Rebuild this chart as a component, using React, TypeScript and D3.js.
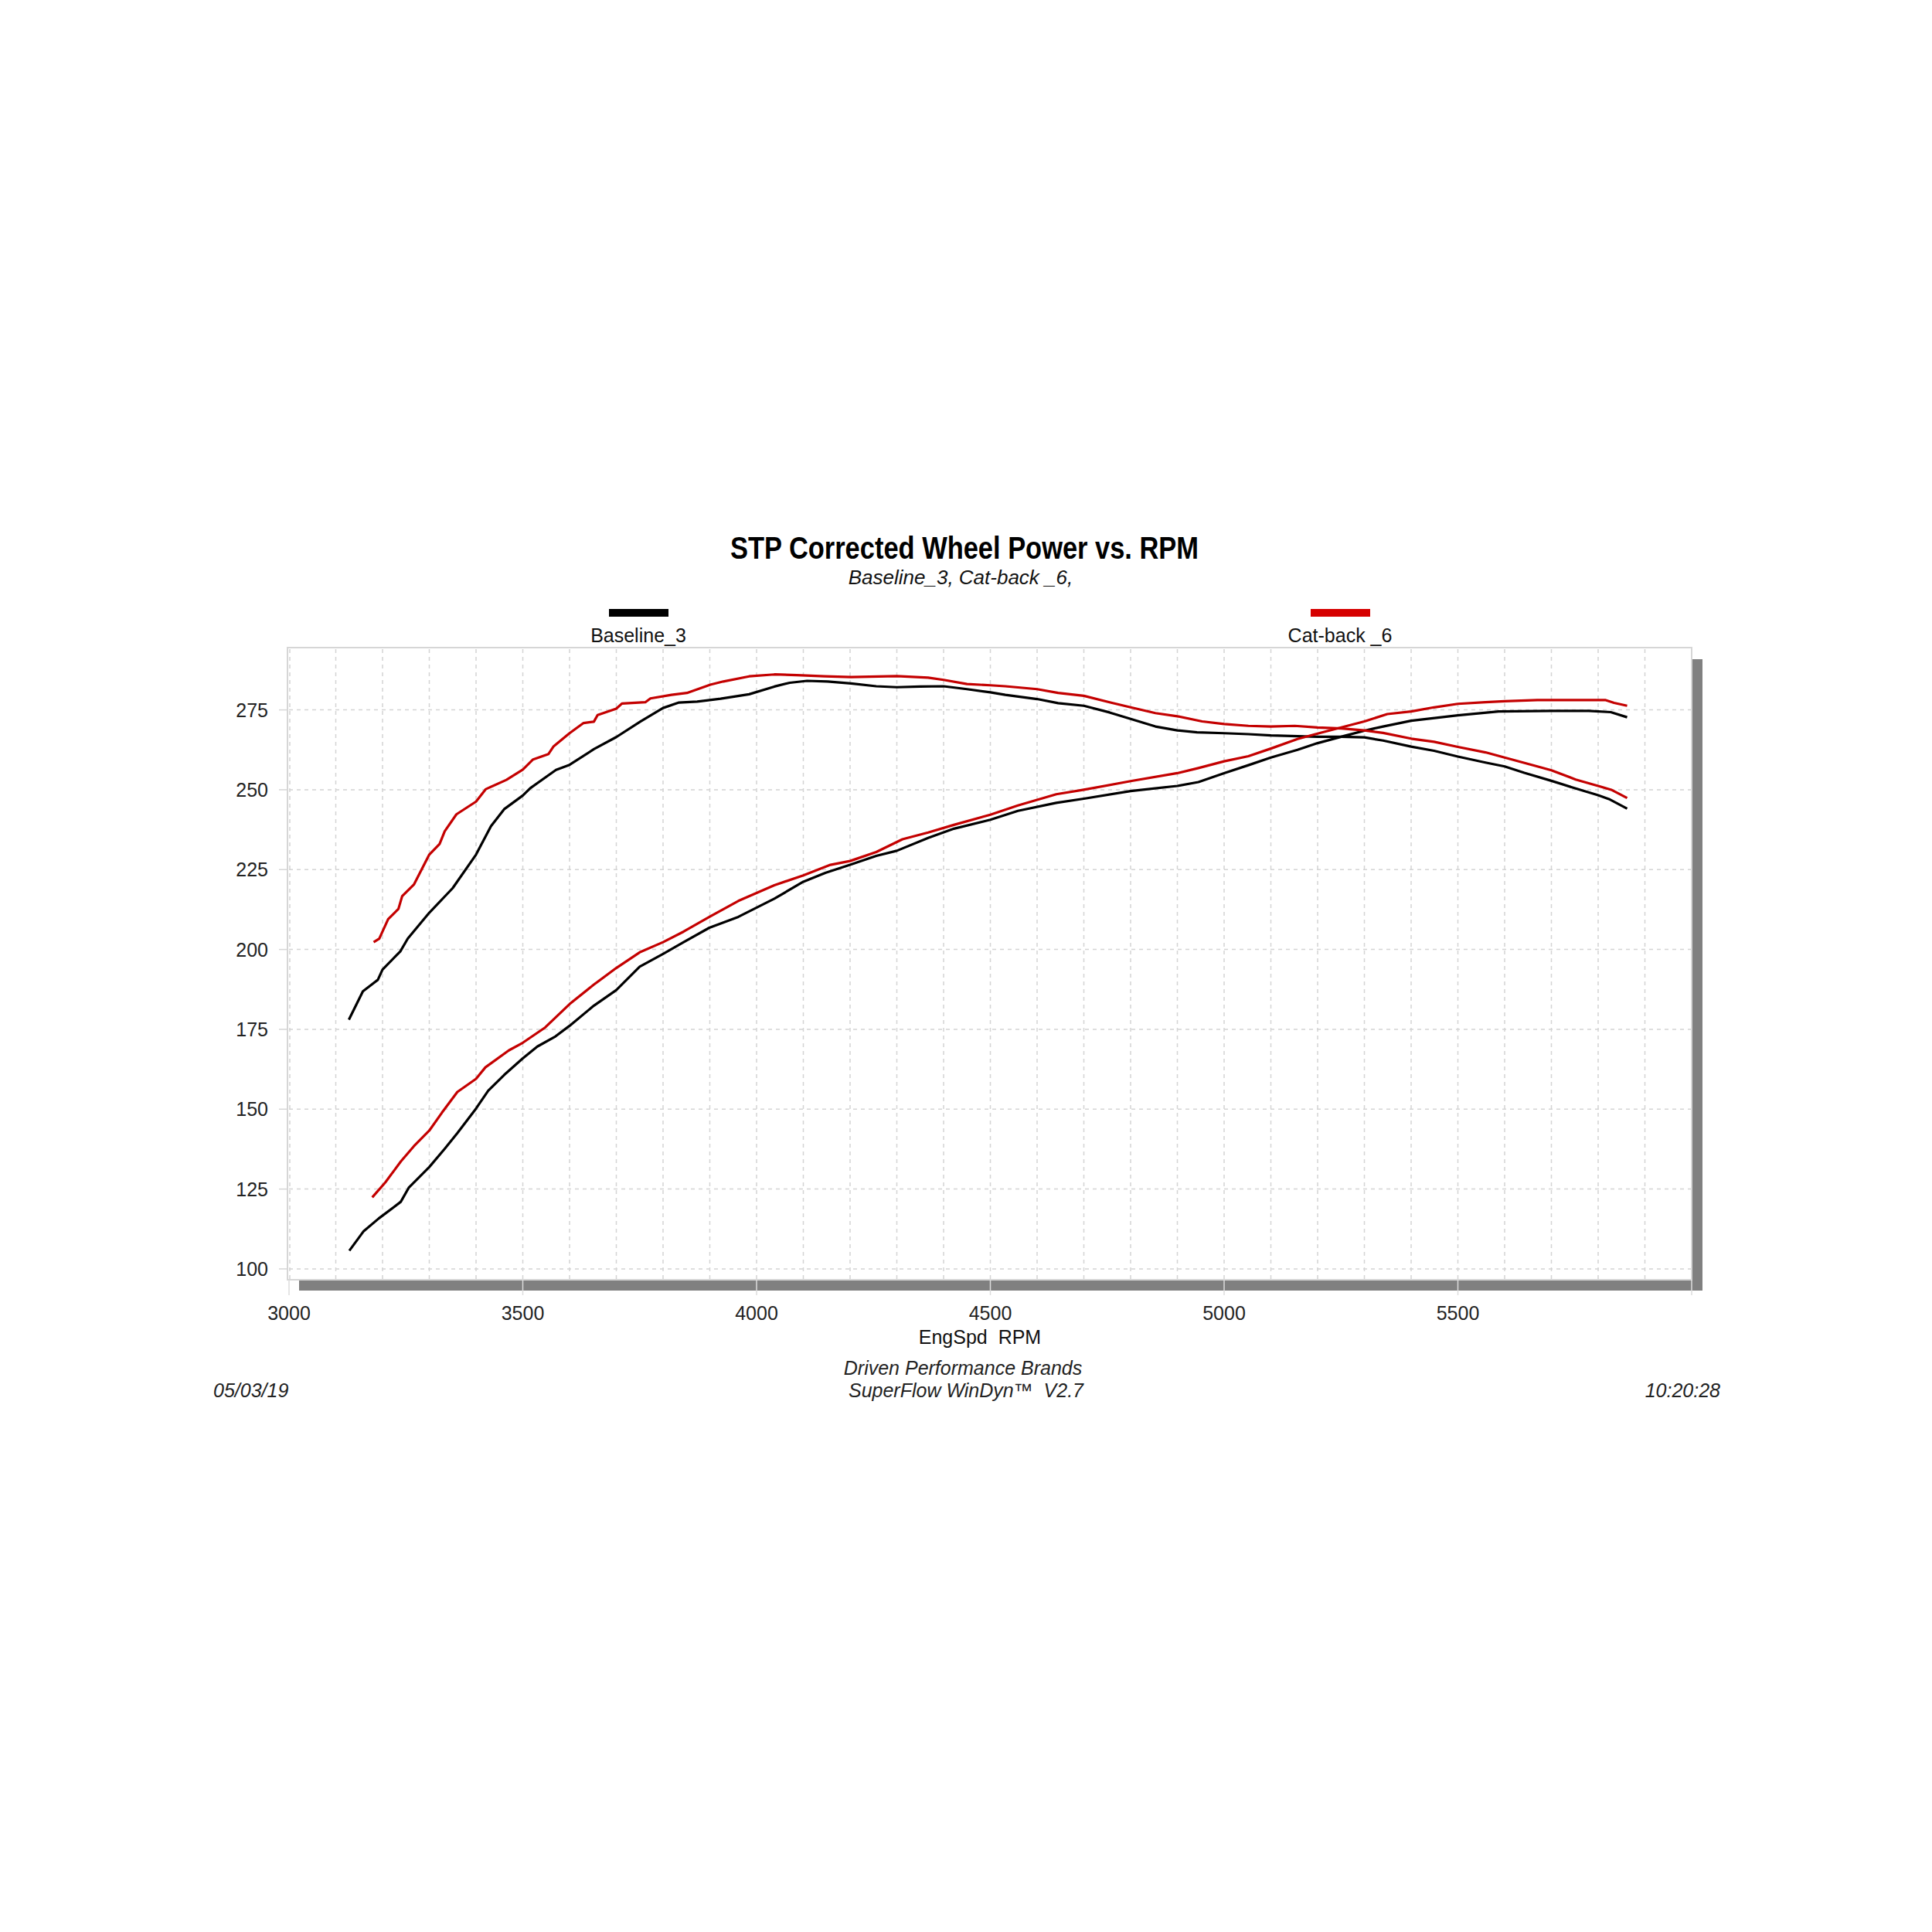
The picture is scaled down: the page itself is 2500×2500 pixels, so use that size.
import React from 'react';
import * as d3 from 'd3';

// Baseline_3 (black) – falling curve and rising curve
const baselineTopRpm = [3128, 3158, 3190, 3200, 3238, 3254, 3300, 3350, 3400, 3432, 3460, 3500, 3516, 3571, 3600, 3652, 3700, 3751, 3800, 3834, 3873, 3923, 3984, 4038, 4071, 4108, 4152, 4202, 4256, 4300, 4350, 4400, 4450, 4500, 4532, 4600, 4645, 4700, 4755, 4800, 4853, 4900, 4942, 5000, 5052, 5100, 5200, 5251, 5300, 5340, 5400, 5449, 5500, 5559, 5600, 5642, 5700, 5752, 5800, 5823, 5862];
const baselineTop = [178, 186.9, 190.5, 193.7, 199.4, 203.4, 211.5, 219.2, 229.7, 238.6, 243.9, 248.2, 250.5, 256.2, 257.8, 262.7, 266.5, 271.3, 275.6, 277.3, 277.6, 278.5, 279.9, 282.3, 283.5, 284.1, 283.9, 283.3, 282.4, 282.1, 282.3, 282.4, 281.5, 280.5, 279.7, 278.4, 277.1, 276.3, 274.2, 272.2, 269.8, 268.6, 268, 267.7, 267.4, 267, 266.6, 266.6, 266.4, 265.4, 263.5, 262.2, 260.4, 258.5, 257.3, 255.3, 252.8, 250.4, 248.3, 247.1, 244.1];

const baselineLowRpm = [3129, 3159, 3192, 3239, 3256, 3300, 3333, 3360, 3400, 3426, 3460, 3500, 3531, 3570, 3600, 3652, 3700, 3750, 3800, 3844, 3899, 3961, 4038, 4100, 4147, 4200, 4256, 4300, 4367, 4422, 4500, 4559, 4641, 4700, 4800, 4900, 4945, 5000, 5052, 5100, 5157, 5200, 5258, 5300, 5340, 5400, 5500, 5587, 5700, 5780, 5827, 5862];
const baselineLow = [105.7, 111.7, 115.8, 121, 125.4, 131.9, 137.6, 142.5, 150.2, 155.8, 160.7, 165.9, 169.6, 172.8, 176.1, 182.4, 187.3, 194.6, 198.6, 202.3, 206.8, 210.2, 215.9, 221.2, 224, 226.5, 229.3, 230.9, 234.9, 237.8, 240.6, 243.4, 245.9, 247.2, 249.6, 251.2, 252.4, 255.2, 257.7, 260.1, 262.5, 264.6, 266.9, 268.5, 269.8, 271.6, 273.3, 274.5, 274.7, 274.7, 274.3, 272.7];

// Cat-back _6 (red)
const catbackTopRpm = [3181, 3193, 3212, 3234, 3242, 3267, 3300, 3322, 3333, 3358, 3400, 3421, 3465, 3500, 3522, 3555, 3566, 3600, 3630, 3652, 3660, 3700, 3712, 3762, 3773, 3818, 3851, 3901, 3929, 3984, 4038, 4086, 4146, 4202, 4300, 4367, 4400, 4450, 4500, 4532, 4600, 4645, 4700, 4755, 4800, 4853, 4900, 4953, 5000, 5052, 5100, 5151, 5200, 5251, 5300, 5340, 5400, 5449, 5500, 5559, 5600, 5670, 5700, 5752, 5800, 5828, 5862];
const catbackTop = [202.3, 203.4, 209.5, 212.7, 216.7, 220.3, 229.7, 233, 237, 242.3, 246.3, 250.2, 253.1, 256.3, 259.5, 261.2, 263.6, 267.7, 270.9, 271.3, 273.4, 275.4, 277, 277.4, 278.6, 279.7, 280.3, 282.9, 283.9, 285.5, 286.1, 285.9, 285.5, 285.3, 285.6, 285.1, 284.4, 283.1, 282.7, 282.4, 281.5, 280.3, 279.4, 277.4, 275.8, 274, 273, 271.4, 270.6, 270, 269.8, 270, 269.5, 269.2, 268.6, 267.8, 266, 265, 263.4, 261.7, 260.1, 257.3, 256.1, 253.2, 251.2, 250, 247.4];

const catbackLowRpm = [3178, 3206, 3239, 3267, 3300, 3327, 3360, 3400, 3420, 3470, 3500, 3548, 3600, 3652, 3700, 3750, 3800, 3844, 3900, 3961, 4038, 4100, 4158, 4200, 4256, 4312, 4367, 4422, 4500, 4559, 4641, 4700, 4800, 4900, 4945, 5000, 5052, 5100, 5157, 5200, 5300, 5349, 5400, 5449, 5500, 5559, 5600, 5670, 5724, 5815, 5834, 5862];
const catbackLow = [122.4, 127.1, 133.6, 138.4, 143.3, 148.9, 155.4, 159.5, 163.1, 168.4, 170.8, 175.6, 182.9, 189, 194.2, 199.1, 202.3, 205.6, 210.3, 215.2, 220.1, 223.2, 226.5, 227.7, 230.5, 234.5, 236.6, 239, 242.2, 245.1, 248.6, 250, 252.7, 255.2, 256.8, 258.9, 260.5, 262.9, 265.9, 267.6, 271.4, 273.7, 274.5, 275.8, 276.9, 277.4, 277.7, 278.1, 278.1, 278.1, 277.2, 276.3];

const xTicks = [3000, 3500, 4000, 4500, 5000, 5500];
const yTicks = [100, 125, 150, 175, 200, 225, 250, 275];
const runNames = ['Baseline_3', 'Cat-back _6'];
const runColors = ['#000000', '#c40000'];
const legendColors = ['#000000', '#d60000'];

const FONT = '"Liberation Sans", Arial, sans-serif';

const App: React.FC = () => {
  const x = d3.scaleLinear().domain([3000, 6000]).range([374, 2189]);
  const y = d3.scaleLinear().domain([96.6, 294.5]).range([1656, 838]);

  const line = d3.line<[number, number]>()
    .x(d => x(d[0]))
    .y(d => y(d[1]))
    .curve(d3.curveLinear);

  const zip = (r: number[], v: number[]) => r.map((rpm, i) => [rpm, v[i]] as [number, number]);

  const series = [
    {d: zip(baselineTopRpm, baselineTop), c: runColors[0]},
    {d: zip(baselineLowRpm, baselineLow), c: runColors[0]},
    {d: zip(catbackTopRpm, catbackTop), c: runColors[1]},
    {d: zip(catbackLowRpm, catbackLow), c: runColors[1]},
  ];

  const [x0, x1] = x.range();
  const [yb, yt] = y.range();
  const gridX = d3.range(3100, 6000, 100);
  const gridY = yTicks;

  const legendX = [826, 1734];

  return (
    <svg width={2500} height={2500} style={{position: 'absolute', left: 0, top: 0, background: '#fff'}}
         fontFamily={FONT}>
      <rect x={0} y={0} width={2500} height={2500} fill="#fff"/>

      {/* title */}
      <text x={1248} y={723} textAnchor="middle" fontSize={40} fontWeight="bold" textLength={606}
            lengthAdjust="spacingAndGlyphs" fill="#000">STP Corrected Wheel Power vs. RPM</text>
      <text x={1243} y={756} textAnchor="middle" fontSize={26} fontStyle="italic" fill="#111">
        Baseline_3, Cat-back _6,
      </text>

      {/* legend */}
      {runNames.map((n, i) => (
        <g key={n}>
          <rect x={legendX[i] - 38} y={788} width={77} height={10} fill={legendColors[i]}/>
          <text x={legendX[i]} y={831} textAnchor="middle" fontSize={25} fill="#111">{n}</text>
        </g>
      ))}

      {/* shadow */}
      <rect x={x1 + 1} y={853} width={13} height={1670 - 853} fill="#808080"/>
      <rect x={387} y={yb + 1} width={x1 + 14 - 387} height={13} fill="#808080"/>

      {/* plot frame */}
      <rect x={x0 - 2} y={yt} width={x1 - x0 + 2} height={yb - yt} fill="#fff" stroke="#d6d6d6" strokeWidth={2}/>

      {/* grid */}
      {gridX.map(v => (
        <line key={'gx' + v} x1={x(v)} x2={x(v)} y1={yt + 2} y2={yb - 1} stroke="#d4d4d4" strokeWidth={1.5}
              strokeDasharray="5,5"/>
      ))}
      <line x1={x(3000) + 1} x2={x(3000) + 1} y1={yt + 2} y2={yb - 1} stroke="#d4d4d4" strokeWidth={1.5}
            strokeDasharray="5,5"/>
      {gridY.map(v => (
        <line key={'gy' + v} x1={x0} x2={x1 - 1} y1={y(v)} y2={y(v)} stroke="#d4d4d4" strokeWidth={1.5}
              strokeDasharray="5,5"/>
      ))}

      {/* ticks */}
      {xTicks.concat([6000]).map(v => (
        <line key={'tx' + v} x1={x(v)} x2={x(v)} y1={yb} y2={yb + 20} stroke="#dcdcdc" strokeWidth={1.5}/>
      ))}
      {yTicks.map(v => (
        <line key={'ty' + v} x1={x0 - 13} x2={x0 - 2} y1={y(v)} y2={y(v)} stroke="#d6d6d6" strokeWidth={1.5}/>
      ))}

      {/* curves */}
      {series.map((s, i) => (
        <path key={i} d={line(s.d) || ''} fill="none" stroke={s.c} strokeWidth={3.2} strokeLinejoin="round"/>
      ))}

      {/* axis labels */}
      {yTicks.map(v => (
        <text key={'ly' + v} x={347} y={y(v) + 9} textAnchor="end" fontSize={25} fill="#222">{v}</text>
      ))}
      {xTicks.map(v => (
        <text key={'lx' + v} x={x(v)} y={1708} textAnchor="middle" fontSize={25} fill="#222">{v}</text>
      ))}
      <text x={1268} y={1739} textAnchor="middle" fontSize={25} fill="#111" style={{whiteSpace: 'pre'}}>
        {'EngSpd\u00a0\u00a0RPM'}
      </text>

      {/* footer */}
      <text x={1246} y={1779} textAnchor="middle" fontSize={25} fontStyle="italic" fill="#222">
        Driven Performance Brands
      </text>
      <text x={1250} y={1808} textAnchor="middle" fontSize={25} fontStyle="italic" fill="#222">
        {'SuperFlow WinDyn\u2122\u00a0\u00a0V2.7'}
      </text>
      <text x={276} y={1808} textAnchor="start" fontSize={25} fontStyle="italic" fill="#222">05/03/19</text>
      <text x={2226} y={1808} textAnchor="end" fontSize={25} fontStyle="italic" fill="#222">10:20:28</text>
    </svg>
  );
};

export default App;
